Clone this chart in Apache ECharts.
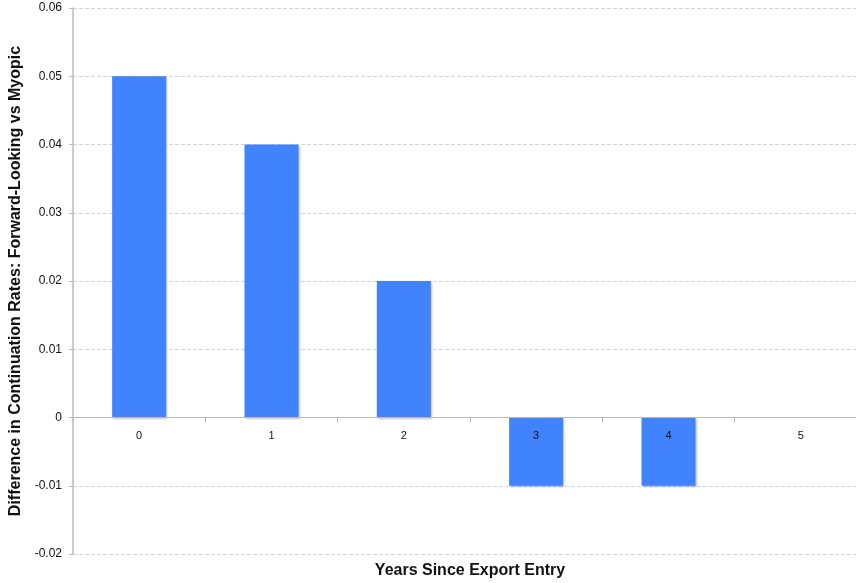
<!DOCTYPE html>
<html><head><meta charset="utf-8">
<script src="https://cdn.jsdelivr.net/npm/echarts@6/dist/echarts.min.js"></script>
<style>html,body{margin:0;padding:0;background:#fff}#c{width:856px;height:583px}</style>
</head><body><div id="c"></div>
<script>
const categories = ['0','1','2','3','4','5'];
const values = [0.05, 0.04, 0.02, -0.01, -0.01, 0];
const yTicks = { min: -0.02, max: 0.06, interval: 0.01 };
const xName = 'Years Since Export Entry';
const yName = 'Difference in Continuation Rates: Forward-Looking vs Myopic';

const chart = echarts.init(document.getElementById('c'));
chart.setOption({
  animation: false,
  grid: { left: 73, top: 8, width: 794, bottom: 29, outerBoundsMode: 'none', containLabel: false },
  xAxis: {
    type: 'category', data: categories, z: 10, offset: -136.5,
    name: xName, nameLocation: 'middle', nameGap: 145,
    nameTextStyle: { fontFamily: 'Liberation Sans', fontWeight: 'bold', fontSize: 16, color: '#111' },
    axisLine: { onZero: false, lineStyle: { color: '#b8b8b8' } },
    axisTick: { show: true, length: 5, lineStyle: { color: '#b8b8b8' } },
    axisLabel: { margin: 13, fontFamily: 'Liberation Sans', fontSize: 11, color: '#111' },
    splitLine: { show: false }
  },
  yAxis: {
    type: 'value', min: yTicks.min, max: yTicks.max, interval: yTicks.interval,
    name: yName, nameLocation: 'middle', nameGap: 44,
    nameTextStyle: { fontFamily: 'Liberation Sans', fontWeight: 'bold', fontSize: 16, color: '#111' },
    axisLine: { show: true, lineStyle: { color: '#bbb', width: 1.5 } },
    axisTick: { show: true, length: 4, inside: false, lineStyle: { color: '#bbb' } },
    axisLabel: { margin: 11, fontFamily: 'Liberation Sans', fontSize: 12, color: '#111',
      formatter: v => (Math.round(v * 100) / 100).toString() },
    splitLine: { show: true, lineStyle: { color: '#d4d4d4', type: 'dashed' } }
  },
  series: [{
    type: 'bar', data: values, barWidth: 54,
    itemStyle: { color: '#4183fd', shadowColor: 'rgba(0,0,0,0.25)', shadowBlur: 2, shadowOffsetX: 1, shadowOffsetY: 1 }
  }]
});
</script></body></html>
